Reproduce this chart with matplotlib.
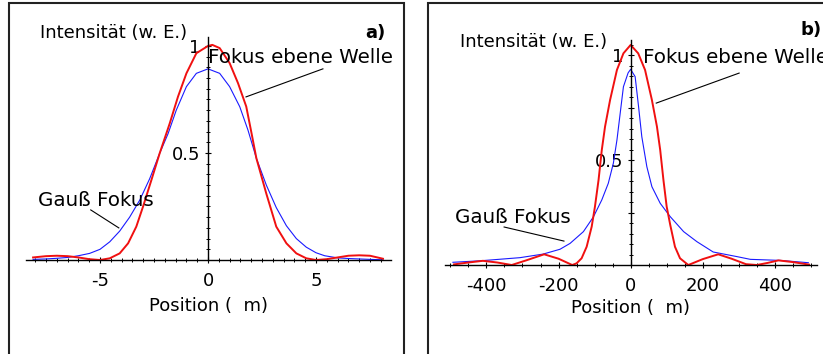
import matplotlib
matplotlib.use("Agg")
import matplotlib.pyplot as plt
from matplotlib.patches import Rectangle
from matplotlib.ticker import MultipleLocator

plt.rcParams['font.family'] = ['DejaVu Sans']
plt.rcParams['axes.unicode_minus'] = False

# panel a: position in um, intensity (arb. units)
red_a_x = [-8.1, -7.5, -7.0, -6.5, -6.0, -5.5, -5.0, -4.55, -4.09, -3.7, -3.32, -3.01, -2.62, -2.24,
           -1.77, -1.39, -1.0, -0.54, 0.0, 0.2, 0.54, 1.0, 1.39, 1.77, 2.0, 2.24, 2.7, 3.16, 3.63, 4.09,
           4.55, 5.0, 5.5, 6.0, 6.5, 7.0, 7.5, 8.1]
red_a_y = [0.012, 0.018, 0.02, 0.018, 0.012, 0.004, 0.0, 0.008, 0.031, 0.078, 0.156, 0.249, 0.374, 0.498,
           0.639, 0.763, 0.872, 0.966, 1.0, 1.005, 0.99, 0.92, 0.826, 0.717, 0.60, 0.475, 0.31, 0.156,
           0.078, 0.031, 0.008, 0.0, 0.004, 0.012, 0.02, 0.022, 0.02, 0.006]
blue_a_x = [-8.1, -7.5, -7.0, -6.5, -6.0, -5.48, -5.0, -4.55, -4.09, -3.63, -3.16, -2.7, -2.24, -1.85,
            -1.47, -1.0, -0.54, 0.0, 0.54, 1.0, 1.47, 1.85, 2.24, 2.7, 3.16, 3.63, 4.09, 4.55, 5.0, 5.4,
            6.0, 6.5, 7.0, 7.5, 8.1]
blue_a_y = [0.003, 0.005, 0.008, 0.012, 0.02, 0.031, 0.05, 0.085, 0.135, 0.20, 0.28, 0.38, 0.498, 0.59,
            0.70, 0.81, 0.872, 0.893, 0.872, 0.81, 0.716, 0.607, 0.475, 0.35, 0.245, 0.16, 0.10, 0.06,
            0.034, 0.02, 0.01, 0.007, 0.005, 0.003, 0.001]

# panel b
red_b_x = [-490, -450, -410, -370, -330, -290, -240, -200, -162, -150, -136, -122, -108, -99, -89, -80,
           -71, -57, -38, -20, 0, 21, 40, 59, 73, 82, 91, 100, 110, 123, 137, 160, 200, 243, 280, 320,
           350, 380, 410, 450, 495]
red_b_y = [0.003, 0.012, 0.02, 0.012, 0.0, 0.022, 0.051, 0.03, 0.0, 0.008, 0.032, 0.087, 0.183, 0.278,
           0.405, 0.548, 0.659, 0.786, 0.929, 1.008, 1.048, 1.008, 0.929, 0.786, 0.659, 0.548, 0.405,
           0.278, 0.19, 0.087, 0.032, 0.0, 0.028, 0.051, 0.03, 0.004, 0.0, 0.01, 0.022, 0.014, 0.002]
blue_b_x = [-493, -418, -307, -243, -196, -168, -131, -103, -80, -62, -48, -38, -29, -20, -7, 0, 12.5,
            22, 31, 45, 59, 82, 110, 147, 184, 229, 295, 332, 415, 493]
blue_b_y = [0.013, 0.02, 0.035, 0.052, 0.075, 0.103, 0.159, 0.23, 0.31, 0.389, 0.484, 0.595, 0.722,
            0.849, 0.915, 0.932, 0.897, 0.754, 0.611, 0.468, 0.373, 0.294, 0.23, 0.159, 0.111, 0.062,
            0.04, 0.027, 0.022, 0.011]

ylabel = "Intensität (w. E.)"
xlabel = "Position (  m)"
fs = 13
fs_note = 14.3
red = '#f01010'
blue = '#1a1aff'

fig = plt.figure(figsize=(8.23, 3.54), dpi=100)

# frames around both panels
fig.add_artist(Rectangle((9 / 823, -0.1), 395 / 823, 1.1 - 3.3 / 354, transform=fig.transFigure,
                         fill=False, lw=1.5, ec='#222222'))
fig.add_artist(Rectangle((428 / 823, -0.1), 0.6, 1.1 - 3.3 / 354, transform=fig.transFigure,
                         fill=False, lw=1.5, ec='#222222'))

ax1 = fig.add_axes([0.031, 0.2534, 0.4435, 0.641])
ax2 = fig.add_axes([0.5407, 0.2395, 0.452, 0.6466])


def style(ax, ytop):
    for s in ['top', 'right']:
        ax.spines[s].set_visible(False)
    ax.spines['left'].set_position(('data', 0))
    ax.spines['bottom'].set_position(('data', 0))
    ax.spines['left'].set_bounds(0, ytop)
    ax.spines['left'].set_linewidth(1.0)
    ax.spines['bottom'].set_linewidth(1.0)
    ax.patch.set_visible(False)
    ax.tick_params(which='major', direction='inout', length=5, width=0.8, labelsize=fs)
    ax.tick_params(which='minor', direction='inout', length=3, width=0.7)
    ax.tick_params(axis='x', pad=6)
    ax.tick_params(axis='y', pad=3)
    ax.yaxis.set_minor_locator(MultipleLocator(0.05))


# panel a
ax1.plot(blue_a_x, blue_a_y, color=blue, lw=0.8)
ax1.plot(red_a_x, red_a_y, color=red, lw=1.4)
ax1.set_xlim(-8.45, 8.45)
ax1.set_ylim(-0.02, 1.04)
style(ax1, 1.04)
ax1.set_xticks([-5, 0, 5])
ax1.set_xticklabels(['-5', '0', '5'])
ax1.xaxis.set_minor_locator(MultipleLocator(0.5))
ax1.set_yticks([0.5, 1])
ax1.set_yticklabels(['0.5', '1'])
ax1.set_xlabel(xlabel, fontsize=fs, labelpad=5)
ax1.text(-0.97, 1.06, ylabel, fontsize=fs, ha='right', va='center')
ax1.text(8.2, 1.06, 'a)', fontsize=fs, fontweight='bold', ha='right', va='center')
ax1.text(0.0, 0.944, 'Fokus ebene Welle', fontsize=fs_note, ha='left', va='center')
ax1.plot([5.32, 1.76], [0.893, 0.762], color='black', lw=0.8)
ax1.text(-7.87, 0.276, 'Gauß Fokus', fontsize=fs_note, ha='left', va='center')
ax1.plot([-5.43, -4.13], [0.234, 0.15], color='black', lw=0.8)

# panel b
ax2.plot(blue_b_x, blue_b_y, color=blue, lw=0.8)
ax2.plot(red_b_x, red_b_y, color=red, lw=1.4)
ax2.set_xlim(-515, 517)
ax2.set_ylim(-0.02, 1.07)
style(ax2, 1.07)
ax2.set_xticks([-400, -200, 0, 200, 400])
ax2.set_xticklabels(['-400', '-200', '0', '200', '400'])
ax2.xaxis.set_minor_locator(MultipleLocator(50))
ax2.set_yticks([0.25, 0.5, 0.75, 1])
ax2.set_yticklabels(['', '0.5', '', '1'])
ax2.set_xlabel(xlabel, fontsize=fs, labelpad=3)
ax2.text(-65, 1.062, ylabel, fontsize=fs, ha='right', va='center')
ax2.text(529, 1.12, 'b)', fontsize=fs, fontweight='bold', ha='right', va='center')
ax2.text(35, 0.99, 'Fokus ebene Welle', fontsize=fs_note, ha='left', va='center')
ax2.plot([301, 71], [0.914, 0.771], color='black', lw=0.8)
ax2.text(-487.5, 0.224, 'Gauß Fokus', fontsize=fs_note, ha='left', va='center')
ax2.plot([-351, -185], [0.181, 0.114], color='black', lw=0.8)

fig.savefig('out.png', dpi=100)
